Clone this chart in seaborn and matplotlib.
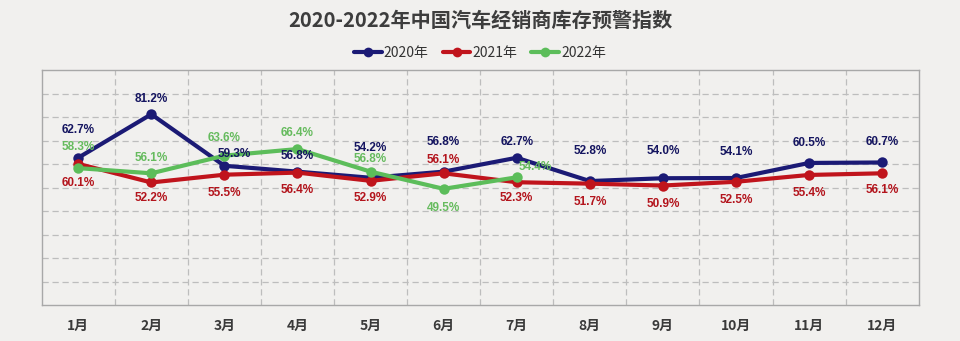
import matplotlib
matplotlib.use("Agg")
import matplotlib.pyplot as plt
from matplotlib.lines import Line2D
import seaborn as sns
import pandas as pd
import numpy as np

# ---- data -------------------------------------------------------------
months = ["1月", "2月", "3月", "4月", "5月", "6月", "7月", "8月", "9月", "10月", "11月", "12月"]
years = ["2020年", "2021年", "2022年"]
v2020 = [62.7, 81.2, 59.3, 56.8, 54.2, 56.8, 62.7, 52.8, 54.0, 54.1, 60.5, 60.7]
v2021 = [60.1, 52.2, 55.5, 56.4, 52.9, 56.1, 52.3, 51.7, 50.9, 52.5, 55.4, 56.1]
v2022 = [58.3, 56.1, 63.6, 66.4, 56.8, 49.5, 54.4]

title = "2020-2022年中国汽车经销商库存预警指数"

# ---- label placement (pixel offsets from each point) -------------------
dy2020 = [28, 15, 12, 16, 30, 30, 16, 30, 27, 26, 20, 20]
dx2020 = [0, 0, 10, 0, 0, 0, 0, 0, 0, 0, 0, 0]
dy2021 = [-19, -16, -18, -17, -17, 13, -16, -18, -18, -18, -18, -17]
dx2021 = [0] * 12
dy2022 = [21, 15, 18, 16, 13, -19, 10]
dx2022 = [0, 0, 0, 0, 0, 0, 19]

colors = {"2020年": "#1b1a75", "2021年": "#c0141c", "2022年": "#5cbd5a"}
label_colors = {"2020年": "#151560", "2021年": "#b3141c", "2022年": "#66bb5e"}

rows = []
for yr, vals in zip(years, [v2020, v2021, v2022]):
    for m, v in zip(months, vals):
        rows.append({"month": m, "value": v, "year": yr})
df = pd.DataFrame(rows)
df["month"] = pd.Categorical(df["month"], categories=months, ordered=True)

sns.set_theme(style="white")
plt.rcParams["font.family"] = ["Noto Sans CJK SC", "DejaVu Sans"]

bg = "#f1f0ee"
fig = plt.figure(figsize=(9.6, 3.41), dpi=100, facecolor=bg)
ax = fig.add_axes([0.0434, 0.1047, 0.9136, 0.69])
ax.set_facecolor(bg)

sns.lineplot(data=df, x="month", y="value", hue="year", palette=colors,
             marker="o", markersize=7.5, markeredgewidth=0, linewidth=3.0,
             sort=False, legend=False, ax=ax)

ax.set_xlim(-0.5, 11.5)
ax.set_ylim(0, 100)

# dashed grid on the category boundaries and every 10 units
ax.set_yticks(np.arange(0, 101, 10))
ax.set_yticklabels([])
ax.tick_params(axis="y", length=0)
ax.set_xticks(np.arange(12))
ax.set_xticklabels(months, fontsize=10, fontweight="bold", color="#3a3a3a")
ax.set_xticks(np.arange(-0.5, 12, 1), minor=True)
ax.tick_params(axis="x", which="major", length=0, pad=10)
ax.tick_params(axis="x", which="minor", length=4, color="#a8a8a8", width=1, direction="out")
ax.grid(False)
for y in range(10, 100, 10):
    ax.axhline(y, color="#bdbdbd", lw=0.9, ls=(0, (5, 3)), zorder=0)
for x in np.arange(0.5, 11.5, 1):
    ax.axvline(x, color="#bdbdbd", lw=0.9, ls=(0, (5, 3)), zorder=0)
for s in ax.spines.values():
    s.set_visible(True)
    s.set_color("#a8a8a8")
    s.set_linewidth(1.0)
ax.set_xlabel("")
ax.set_ylabel("")

# value labels
lab_font = dict(family=["Liberation Sans", "DejaVu Sans"], fontsize=8.5,
                fontweight="bold")
for yr, vals, dxs, dys in [("2020年", v2020, dx2020, dy2020),
                           ("2021年", v2021, dx2021, dy2021),
                           ("2022年", v2022, dx2022, dy2022)]:
    for i, v in enumerate(vals):
        ax.annotate(f"{v:.1f}%", (i, v), xytext=(dxs[i], dys[i]),
                    textcoords="offset pixels", ha="center", va="center",
                    color=label_colors[yr], zorder=6, **lab_font)

fig.text(0.5, 0.941, title, ha="center", va="center", fontsize=14.5,
         fontweight="bold", color="#3d3d3d")

handles = [Line2D([0], [0], color=colors[y], lw=3.0, marker="o", markersize=7,
                  markeredgewidth=0) for y in years]
fig.legend(handles, years, loc="center", bbox_to_anchor=(0.5, 0.845), ncol=3,
           frameon=False, fontsize=10, handlelength=2.0, handletextpad=0.15,
           columnspacing=1.0, labelcolor="#333333")

fig.savefig("out.png", dpi=100, facecolor=bg)
